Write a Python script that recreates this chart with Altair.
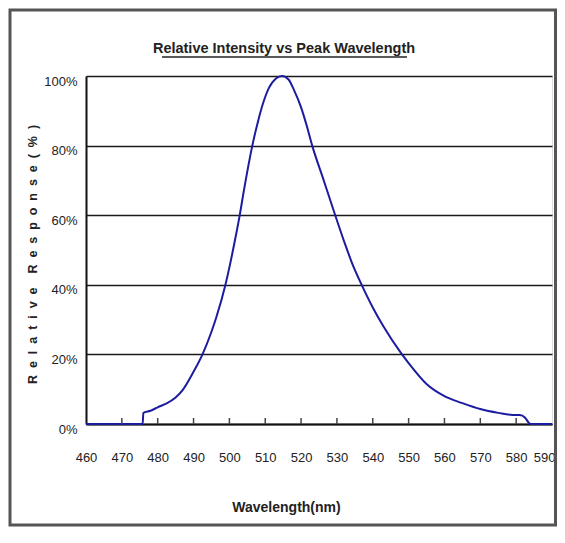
import altair as alt
import pandas as pd

# ---- data ----
wavelength = [460, 475.8, 476, 478, 480, 482.5, 485, 487, 490, 492.5, 495, 496.4, 498.9,
              500, 501.5, 502.8, 504.2, 506.4, 508, 509.2, 511, 513, 514.7,
              516.5, 518, 520, 521.5, 523.1, 526, 529.2, 532, 534.5, 536.9,
              540, 543, 547.8, 550, 555, 560, 565, 570, 575, 579, 581, 582.5,
              583.5, 584, 590]
response = [0, 0, 3.2, 3.8, 4.8, 5.9, 7.6, 9.8, 15, 20, 26.5, 30.8, 40,
            45, 52.5, 59.5, 68, 80, 87, 91.5, 96.5, 99.3, 100,
            99, 96, 91, 86, 80, 71, 61, 52.5, 45.5, 40,
            33.5, 28, 20.5, 17.5, 11.5, 8, 6, 4.3, 3.2, 2.6, 2.6, 1.8,
            0.4, 0, 0]
x_ticks = list(range(460, 600, 10))
inner_ticks = list(range(470, 590, 10))
y_ticks = [0, 20, 40, 60, 80, 100]

chart_title = "Relative Intensity vs Peak Wavelength"
x_title = "Wavelength(nm)"
NB = "\u00a0"
y_title = (NB * 4).join((NB * 2).join(w) for w in ["Relative", "Response(%)"])

FONT = "Liberation Sans, Arial, sans-serif"
INK = "#222222"
W, H = 466, 348

curve_df = pd.DataFrame({"wl": wavelength, "resp": response})
ticks_df = pd.DataFrame({"wl": inner_ticks})
one = pd.DataFrame({"a": [0]})

xscale = alt.Scale(domain=[460, 590], nice=False, zero=False)
yscale = alt.Scale(domain=[0, 100], nice=False)

x_axis = alt.Axis(
    values=x_ticks, ticks=False, grid=False, domain=True, domainColor="#111",
    domainWidth=2, labelFont=FONT, labelFontSize=13, labelColor=INK,
    labelPadding=33, labelFlush=False, labelOverlap=False, labelBaseline="middle",
    labelBound=False,
    labelAlign=alt.ExprRef(expr="datum.value >= 590 ? 'right' : 'center'"),
    labelOffset=alt.ExprRef(expr="datum.value >= 590 ? 3 : 0"),
    title=x_title, titleFont=FONT, titleFontSize=14, titleFontWeight="bold",
    titleColor=INK, titleX=200, titleY=83, titleBaseline="middle")

line = alt.Chart(curve_df).mark_line(
    color="#1c1ca0", strokeWidth=2, interpolate="monotone"
).encode(
    x=alt.X("wl:Q", scale=xscale, axis=x_axis),
    y=alt.Y("resp:Q", scale=yscale, axis=alt.Axis(
        values=y_ticks, ticks=False, grid=True, gridColor="#1a1a1a", gridWidth=1.4,
        domain=True, domainColor="#111", domainWidth=2,
        labelExpr="datum.value + '%'", labelFont=FONT, labelFontSize=13,
        labelColor=INK, labelPadding=9, labelOffset=5, labelFlush=False,
        labelOverlap=False,
        title=y_title, titleFont=FONT, titleFontSize=12.5, titleFontWeight="bold",
        titleColor=INK, titleAngle=270, titleX=-54, titleY=178,
        titleAlign="center", titleBaseline="middle")),
)

ticks = alt.Chart(ticks_df).mark_rule(color="#444", strokeWidth=1.5).encode(
    x=alt.X("wl:Q", scale=xscale, axis=x_axis),
    y=alt.value(H),
    y2=alt.value(H - 6),
)

title_text = alt.Chart(one).mark_text(
    text=chart_title, font=FONT, fontSize=14.5, fontWeight="bold", color=INK,
    align="center", baseline="alphabetic"
).encode(x=alt.value(198), y=alt.value(-23))

title_rule = alt.Chart(one).mark_rule(color=INK, strokeWidth=1.5).encode(
    x=alt.value(76), x2=alt.value(321), y=alt.value(-19)
)

border = alt.Chart(one).mark_rect(
    filled=False, stroke="#555555", strokeWidth=3
).encode(
    x=alt.value(-76), x2=alt.value(469.5), y=alt.value(-66), y2=alt.value(449)
)

chart = alt.layer(border, title_text, title_rule, line, ticks).properties(
    width=W, height=H,
    padding={"left": 78, "top": 68, "right": 5, "bottom": 104},
    autosize=alt.AutoSizeParams(type="none"),
).configure_view(stroke="#111", strokeWidth=2).configure(background="white")

chart.save("out.html", embed_options={"renderer": "svg", "actions": False})
